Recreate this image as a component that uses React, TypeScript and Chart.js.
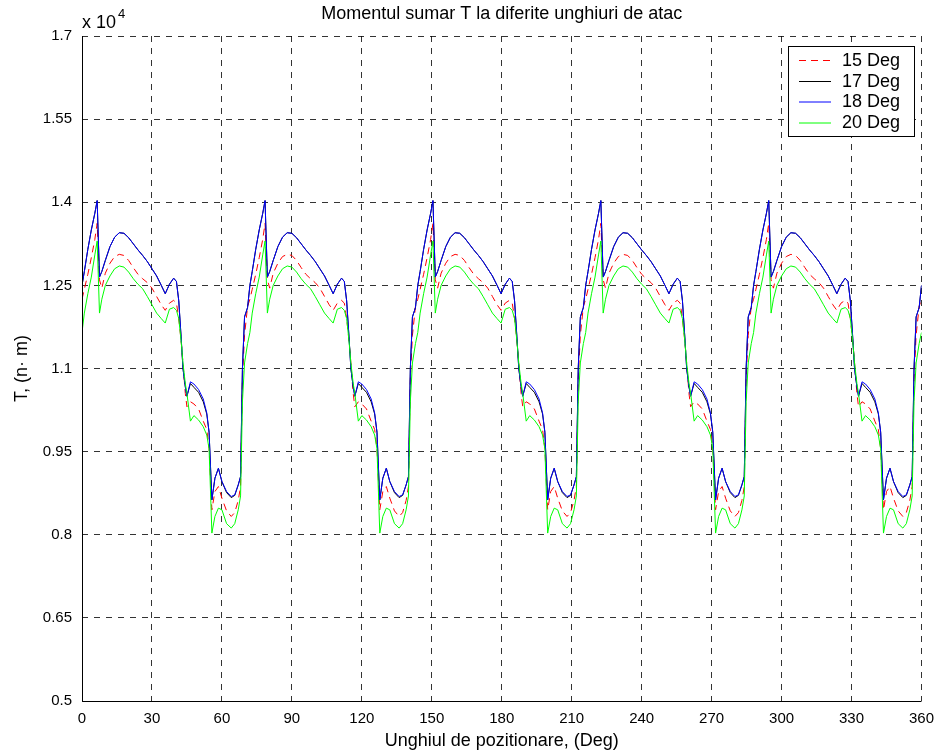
import React, { useEffect, useRef } from 'react';
import { Chart, registerables } from 'chart.js';

Chart.register(...registerables);

// ---- data (values shown in units of x 10^4 N·m) ----
const X_TICKS = [0, 30, 60, 90, 120, 150, 180, 210, 240, 270, 300, 330, 360];
const Y_TICKS = [0.5, 0.65, 0.8, 0.95, 1.1, 1.25, 1.4, 1.55, 1.7];

const PERIOD = 72; // degrees, 5 periods over 360
const N_PERIODS = 5;

// angle within one period (deg)
const PERIOD_ANGLES = [
  0, 1, 2.5, 4, 5.5, 6.5, 7.5, 8.5, 10, 12, 14, 16, 18, 20, 22, 24, 26, 28, 30, 32, 34, 35.7,
  37.5, 39.3, 40.5, 41.5, 42.5, 43.3, 44.3, 45, 46.5, 48, 50, 52, 53.5, 54.5, 55.7, 57, 58.5,
  60, 62, 64, 65.5, 67, 68, 68.8, 69.7, 71,
];

const T_15 = [
  1.225, 1.243, 1.27, 1.3, 1.333, 1.362, 1.26, 1.245, 1.272, 1.29, 1.302, 1.306, 1.304, 1.295,
  1.282, 1.27, 1.262, 1.255, 1.245, 1.23, 1.215, 1.205, 1.218, 1.223, 1.218, 1.19, 1.15, 1.11,
  1.055, 1.031, 1.04, 1.036, 1.027, 1.005, 0.99, 0.955, 0.845, 0.878, 0.887, 0.866, 0.843,
  0.833, 0.84, 0.862, 0.887, 1.08, 1.16, 1.212,
];

const T_17 = [
  1.25, 1.275, 1.315, 1.35, 1.38, 1.403, 1.265, 1.275, 1.295, 1.32, 1.337, 1.345, 1.344, 1.336,
  1.325, 1.314, 1.304, 1.293, 1.28, 1.267, 1.25, 1.235, 1.252, 1.263, 1.257, 1.222, 1.157, 1.1,
  1.067, 1.05, 1.073, 1.066, 1.057, 1.04, 1.018, 0.985, 0.863, 0.902, 0.92, 0.896, 0.876,
  0.867, 0.871, 0.89, 0.905, 1.1, 1.193, 1.21,
];

const T_18 = [
  1.25, 1.275, 1.315, 1.35, 1.38, 1.403, 1.265, 1.275, 1.295, 1.32, 1.337, 1.345, 1.344, 1.336,
  1.325, 1.314, 1.304, 1.293, 1.28, 1.267, 1.25, 1.235, 1.252, 1.263, 1.257, 1.222, 1.157, 1.1,
  1.067, 1.05, 1.076, 1.072, 1.062, 1.045, 1.02, 0.985, 0.863, 0.902, 0.92, 0.896, 0.878,
  0.869, 0.872, 0.89, 0.905, 1.1, 1.193, 1.21,
];

const T_20 = [
  1.165, 1.2, 1.235, 1.265, 1.305, 1.33, 1.2, 1.225, 1.25, 1.267, 1.28, 1.285, 1.283, 1.274,
  1.262, 1.252, 1.244, 1.23, 1.215, 1.2, 1.19, 1.182, 1.207, 1.21, 1.205, 1.19, 1.15, 1.11,
  1.073, 1.055, 1.005, 1.015, 1.007, 0.995, 0.98, 0.955, 0.803, 0.833, 0.848, 0.845, 0.82,
  0.812, 0.82, 0.845, 0.87, 1.04, 1.11, 1.145,
];

const SERIES_LABELS = ['15 Deg', '17 Deg', '18 Deg', '20 Deg'];
const SERIES_COLORS = ['#ff0000', '#000000', '#0000ff', '#00ff00'];
const SERIES_DASH: number[][] = [[7, 5], [], [], []];

const TITLE = 'Momentul sumar T la diferite unghiuri de atac';
const X_LABEL = 'Unghiul de pozitionare, (Deg)';
const Y_LABEL = 'T, (n· m)';

const FONT = '"Liberation Sans", Arial, Helvetica, sans-serif';

function buildSeries(vals: number[]) {
  const pts: { x: number; y: number }[] = [];
  for (let p = 0; p < N_PERIODS; p++) {
    for (let i = 0; i < PERIOD_ANGLES.length; i++) {
      pts.push({ x: p * PERIOD + PERIOD_ANGLES[i], y: vals[i] });
    }
  }
  pts.push({ x: N_PERIODS * PERIOD, y: vals[0] });
  return pts;
}

const decorPlugin = {
  id: 'decor',
  afterDraw(chart: any) {
    const { ctx, chartArea } = chart;
    const { left, right, top, bottom } = chartArea;
    ctx.save();
    // solid left & bottom axes
    ctx.strokeStyle = '#000';
    ctx.lineWidth = 1;
    ctx.setLineDash([]);
    ctx.beginPath();
    ctx.moveTo(Math.round(left) + 0.5, top);
    ctx.lineTo(Math.round(left) + 0.5, Math.round(bottom) + 0.5);
    ctx.lineTo(right, Math.round(bottom) + 0.5);
    ctx.stroke();

    ctx.fillStyle = '#000';
    // title
    ctx.font = `18px ${FONT}`;
    ctx.textAlign = 'center';
    ctx.textBaseline = 'middle';
    ctx.fillText(TITLE, (left + right) / 2, 14);
    // x label
    ctx.fillText(X_LABEL, (left + right) / 2, 741);
    // y label
    ctx.save();
    ctx.translate(22, (top + bottom) / 2);
    ctx.rotate(-Math.PI / 2);
    ctx.fillText(Y_LABEL, 0, 0);
    ctx.restore();
    // multiplier
    ctx.textAlign = 'left';
    ctx.textBaseline = 'alphabetic';
    ctx.font = `18px ${FONT}`;
    ctx.fillText('x 10', 82, 28);
    ctx.font = `13px ${FONT}`;
    ctx.fillText('4', 118, 18);

    // legend
    const bx = 788.5, by = 46.5, bw = 126, bh = 90;
    ctx.fillStyle = '#fff';
    ctx.fillRect(bx, by, bw, bh);
    ctx.strokeStyle = '#000';
    ctx.lineWidth = 1;
    ctx.strokeRect(bx, by, bw, bh);
    const rows = [60, 81, 101.5, 122.5];
    ctx.font = `18px ${FONT}`;
    ctx.textBaseline = 'middle';
    for (let i = 0; i < SERIES_LABELS.length; i++) {
      ctx.strokeStyle = SERIES_COLORS[i];
      ctx.setLineDash(SERIES_DASH[i]);
      ctx.beginPath();
      ctx.moveTo(799, rows[i] + 0.5);
      ctx.lineTo(831, rows[i] + 0.5);
      ctx.stroke();
      ctx.setLineDash([]);
      ctx.fillStyle = '#000';
      ctx.fillText(SERIES_LABELS[i], 842, rows[i] + 1);
    }
    ctx.restore();
  },
};

export default function App() {
  const ref = useRef<HTMLCanvasElement>(null);
  useEffect(() => {
    const datasets = [T_15, T_17, T_18, T_20].map((vals, i) => ({
      label: SERIES_LABELS[i],
      data: buildSeries(vals),
      borderColor: SERIES_COLORS[i],
      backgroundColor: SERIES_COLORS[i],
      borderWidth: 1,
      borderDash: SERIES_DASH[i],
      pointRadius: 0,
      tension: 0,
      fill: false,
      order: 4 - i,
    }));
    const chart = new Chart(ref.current as HTMLCanvasElement, {
      type: 'line',
      data: { datasets },
      options: {
        responsive: false,
        animation: false,
        devicePixelRatio: 1,
        parsing: false as any,
        normalized: true,
        layout: { padding: { left: 0, right: 21, top: 36, bottom: 0 } },
        plugins: {
          legend: { display: false },
          title: { display: false },
          tooltip: { enabled: false },
        },
        scales: {
          x: {
            type: 'linear',
            min: 0,
            max: 360,
            afterBuildTicks: (s: any) => {
              s.ticks = X_TICKS.map((v) => ({ value: v }));
            },
            afterFit: (s: any) => {
              s.height = 52;
            },
            grid: { color: 'rgba(0,0,0,0.8)', lineWidth: 1, drawTicks: false },
            border: { display: false, dash: [6, 6] },
            ticks: {
              color: '#000',
              font: { family: FONT, size: 15 },
              padding: 9,
              maxRotation: 0,
              autoSkip: false,
              callback: (v: any) => String(v),
            },
          },
          y: {
            type: 'linear',
            min: 0.5,
            max: 1.7,
            afterBuildTicks: (s: any) => {
              s.ticks = Y_TICKS.map((v) => ({ value: v }));
            },
            afterFit: (s: any) => {
              s.width = 82;
            },
            grid: { color: 'rgba(0,0,0,0.8)', lineWidth: 1, drawTicks: false },
            border: { display: false, dash: [6, 6] },
            ticks: {
              color: '#000',
              font: { family: FONT, size: 15 },
              padding: 10,
              autoSkip: false,
              callback: (v: any) => String(Number(Number(v).toFixed(2))),
            },
          },
        },
      },
      plugins: [decorPlugin],
    });
    return () => chart.destroy();
  }, []);
  return (
    <div style={{ position: 'fixed', left: 0, top: 0, width: 943, height: 753, background: '#fff' }}>
      <canvas ref={ref} width={943} height={753} style={{ display: 'block', width: 943, height: 753 }} />
    </div>
  );
}
